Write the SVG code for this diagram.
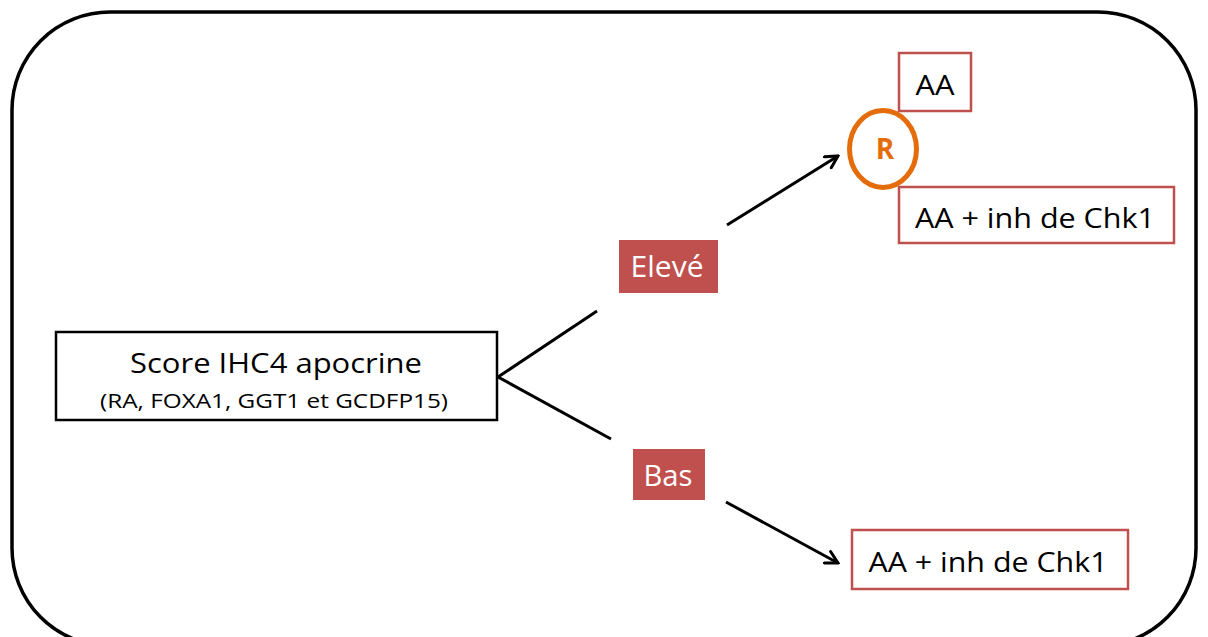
<svg xmlns="http://www.w3.org/2000/svg" width="1208" height="637" viewBox="0 0 1208 637">
  <defs>
    <marker id="arrow" viewBox="0 0 16 16" refX="14" refY="8" markerWidth="16" markerHeight="16" markerUnits="userSpaceOnUse" orient="auto">
      <path d="M2,1.5 L14,8 L2,14.5" fill="none" stroke="#000" stroke-width="3" stroke-linecap="round" stroke-linejoin="miter"/>
    </marker>
    <style>
      text { font-family: "Open Sans", "Noto Sans", "Liberation Sans", sans-serif; }
      .frame { fill: #fff; stroke: #000; stroke-width: 3.5; }
      .main { fill: #fff; stroke: #000; stroke-width: 2.5; }
      .res { fill: #fff; stroke: #C0504D; stroke-width: 2.5; }
      .lab { fill: #C0504D; }
      .conn { stroke: #000; stroke-width: 3; fill: none; }
      .dark { fill: #000; }
      .white { fill: #fff; }
    </style>
  </defs>
  <rect class="frame" x="12" y="12" width="1184" height="634" rx="98" ry="98"/>

  <g id="connectors">
    <line class="conn" x1="498" y1="377" x2="597" y2="311"/>
    <line class="conn" x1="727" y1="225" x2="838" y2="156" marker-end="url(#arrow)"/>
    <line class="conn" x1="498" y1="377" x2="611" y2="439"/>
    <line class="conn" x1="726" y1="502" x2="838" y2="563" marker-end="url(#arrow)"/>
  </g>

  <g id="score">
    <rect class="main" x="56" y="332" width="441" height="88"/>
    <text class="dark" x="276" y="373" font-size="28" text-anchor="middle" textLength="292" lengthAdjust="spacingAndGlyphs">Score IHC4 apocrine</text>
    <text class="dark" x="274" y="408" font-size="20" text-anchor="middle" textLength="348" lengthAdjust="spacingAndGlyphs">(RA, FOXA1, GGT1 et GCDFP15)</text>
  </g>

  <g id="eleve">
    <rect class="lab" x="619" y="240" width="99" height="53"/>
    <text class="white" x="667" y="277" font-size="30" text-anchor="middle" textLength="73" lengthAdjust="spacingAndGlyphs">Elevé</text>
  </g>

  <g id="bas">
    <rect class="lab" x="633" y="449" width="72" height="51"/>
    <text class="white" x="668" y="486" font-size="30" text-anchor="middle" textLength="49" lengthAdjust="spacingAndGlyphs">Bas</text>
  </g>

  <g id="r">
    <ellipse cx="883" cy="149" rx="33.5" ry="38.5" fill="#fff" stroke="#E46C0A" stroke-width="5"/>
    <text x="885" y="159" font-size="28" font-weight="bold" fill="#E46C0A" text-anchor="middle">R</text>
  </g>

  <g id="aa">
    <rect class="res" x="899" y="53" width="72" height="58"/>
    <text class="dark" x="935" y="95" font-size="28" text-anchor="middle" textLength="39" lengthAdjust="spacingAndGlyphs">AA</text>
  </g>

  <g id="aa-chk1-top">
    <rect class="res" x="899" y="187" width="275" height="56"/>
    <text class="dark" x="1035" y="228" font-size="28" text-anchor="middle" textLength="240" lengthAdjust="spacingAndGlyphs">AA + inh de Chk1</text>
  </g>

  <g id="aa-chk1-bottom">
    <rect class="res" x="852" y="530" width="276" height="59"/>
    <text class="dark" x="988" y="572" font-size="28" text-anchor="middle" textLength="239" lengthAdjust="spacingAndGlyphs">AA + inh de Chk1</text>
  </g>
</svg>
